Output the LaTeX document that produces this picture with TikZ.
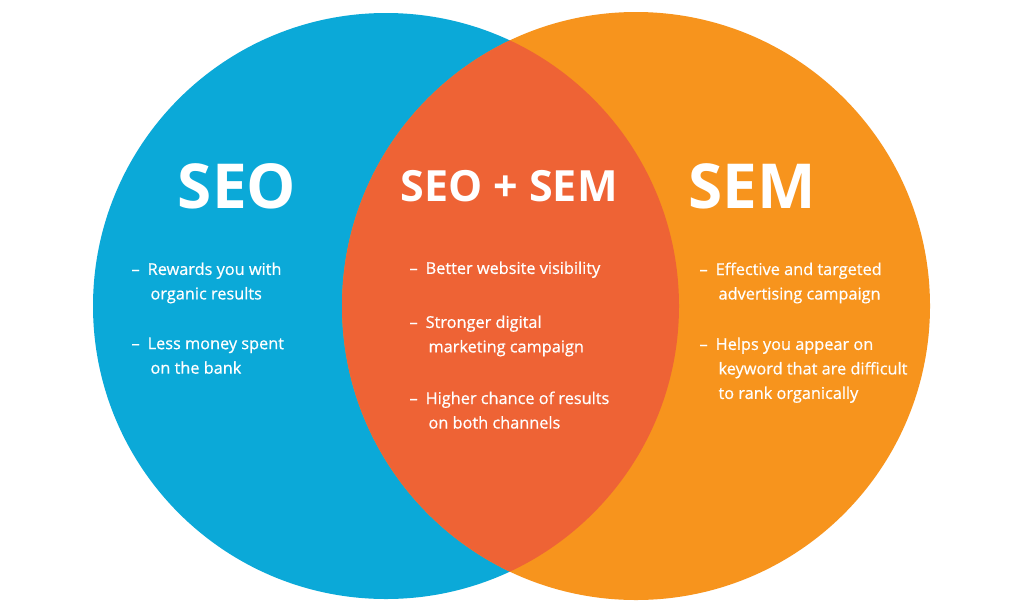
\documentclass[tikz,border=0pt]{standalone}
\usepackage{fontspec}
\setmainfont{Open Sans}
\newfontfamily\itemfont[FakeBold=0.6]{Open Sans}
\definecolor{seob}{HTML}{0BA9D8}
\definecolor{semo}{HTML}{F7941D}
\definecolor{both}{HTML}{EE6335}
\begin{document}
\begin{tikzpicture}[x=1pt,y=-1pt,
  title/.style={text=white,font=\bfseries\fontsize{62}{66}\selectfont},
  midtitle/.style={text=white,font=\bfseries\fontsize{43}{46}\selectfont},
  item/.style={text=white,font=\itemfont\fontsize{16.3}{24.5}\selectfont,align=left,anchor=north west}]
\useasboundingbox[fill=white] (0,0) rectangle (1024,603);
\fill[seob] (386,306) circle (293);
\fill[semo] (636,306) circle (294);
\begin{scope}
\clip (386,306) circle (293);
\fill[both] (636,306) circle (294);
\end{scope}
\node[title] (seo) at (237,186) {SEO};
\node[title] (sem) at (752,186) {SEM};
\node[midtitle] (mid) at (509,186) {SEO + SEM};
\node[item] (l1) at (128,259) {–\hspace{8pt}Rewards you with\\\hspace{19pt}organic results};
\node[item] (l2) at (128,334) {–\hspace{8pt}Less money spent\\\hspace{19pt}on the bank};
\node[item] (m1) at (406,258) {–\hspace{8pt}Better website visibility};
\node[item] (m2) at (406,312) {–\hspace{8pt}Stronger digital\\\hspace{19pt}marketing campaign};
\node[item] (m3) at (406,388) {–\hspace{8pt}Higher chance of results\\\hspace{19pt}on both channels};
\node[item] (r1) at (696,259) {–\hspace{8pt}Effective and targeted\\\hspace{19pt}advertising campaign};
\node[item] (r2) at (696,334) {–\hspace{8pt}Helps you appear on\\\hspace{19pt}keyword that are difficult\\\hspace{19pt}to rank organically};
\end{tikzpicture}
\end{document}
